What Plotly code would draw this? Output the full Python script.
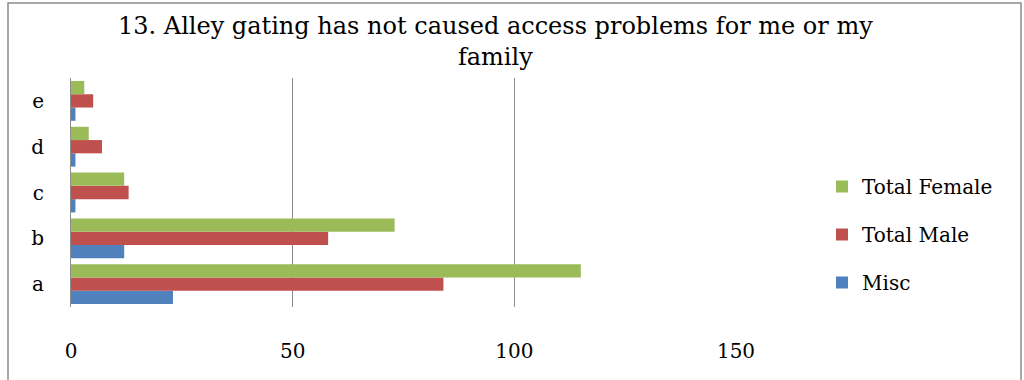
import plotly.graph_objects as go

categories = ["a", "b", "c", "d", "e"]
misc = [23, 12, 1, 1, 1]
total_male = [84, 58, 13, 7, 5]
total_female = [115, 73, 12, 4, 3]
x_ticks = [0, 50, 100, 150]

W, H = 1024, 380
def px(x):
    return x / W
def py(y):
    return 1 - y / H

fig = go.Figure()
series = [("Misc", misc, "#4F81BD", 3), ("Total Male", total_male, "#C0504D", 2),
          ("Total Female", total_female, "#9BBB59", 1)]
for name, vals, col, rank in series:
    fig.add_trace(go.Bar(y=categories, x=vals, name=name, orientation="h",
                         marker=dict(color=col, line=dict(width=0)),
                         legendgroup=name, legendrank=rank))

font = "DejaVu Serif, Liberation Serif, serif"
fig.update_layout(
    width=W, height=H,
    margin=dict(l=0, r=0, t=0, b=0),
    paper_bgcolor="white", plot_bgcolor="white",
    barmode="group", bargap=0.13, bargroupgap=0,
    font=dict(family=font, color="black"),
    showlegend=True,
    legend=dict(x=px(822), y=py(167), xanchor="left", yanchor="top",
                traceorder="grouped", tracegroupgap=19,
                font=dict(size=20, family=font), itemwidth=30,
                bgcolor="rgba(0,0,0,0)"),
    xaxis=dict(domain=[px(71), px(736)], range=[0, 150], tickvals=x_ticks,
               showgrid=True, gridcolor="#8C8C8C", gridwidth=1,
               zeroline=False, showline=False, ticks="", automargin=False,
               tickfont=dict(size=20, family=font), ticklabelstandoff=30),
    yaxis=dict(domain=[py(307), py(78)], showgrid=False, zeroline=False,
               showline=True, linecolor="#8C8C8C", linewidth=1, ticks="",
               automargin=False,
               tickfont=dict(size=20, family=font), ticklabelstandoff=22),
    annotations=[dict(text="13. Alley gating has not caused access problems for me or my<br>family",
                      x=px(495), y=py(10), xref="paper", yref="paper",
                      xanchor="center", yanchor="top", showarrow=False,
                      font=dict(size=24, family=font, color="black"))],
    shapes=[dict(type="rect", xref="paper", yref="paper",
                 x0=px(8), x1=px(1021), y0=-0.05, y1=py(3),
                 line=dict(color="#8C8C8C", width=1.5), fillcolor="rgba(0,0,0,0)")],
)
fig.write_html("out.html")
